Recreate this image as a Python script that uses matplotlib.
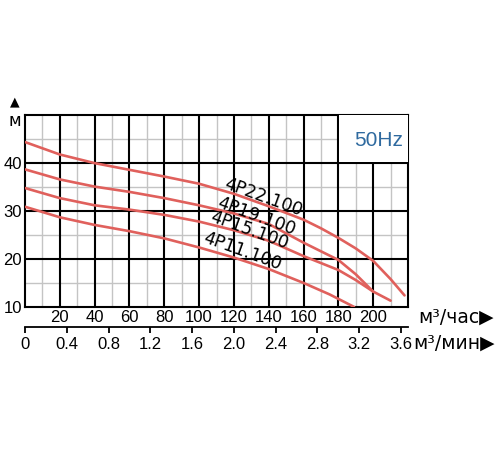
import matplotlib.pyplot as plt
from matplotlib.patches import Rectangle

# подача, м3/час и напор, м
q_22 = [0, 20, 40, 60, 80, 100, 120, 140, 160, 170, 180, 190, 200, 210, 218]
h_22 = [44.4, 41.8, 40.0, 38.6, 37.2, 35.7, 33.6, 31.0, 28.2, 26.4, 24.4, 22.2, 19.6, 15.8, 12.4]

q_19 = [0, 20, 40, 60, 80, 100, 120, 140, 160, 180, 190, 200, 210]
h_19 = [38.7, 36.6, 35.1, 34.0, 32.7, 31.2, 29.5, 27.3, 23.4, 19.8, 16.8, 13.2, 11.3]

q_15 = [0, 20, 40, 60, 80, 100, 120, 140, 160, 180, 190, 200]
h_15 = [34.8, 32.7, 31.2, 30.3, 29.2, 27.8, 26.0, 23.8, 20.6, 17.7, 15.6, 13.2]

q_11 = [0, 20, 40, 60, 80, 100, 120, 140, 160, 175, 189]
h_11 = [30.9, 28.7, 27.1, 25.8, 24.3, 22.4, 20.3, 17.9, 15.0, 12.6, 10.0]

names = ['4P22.100', '4P19.100', '4P15.100', '4P11.100']
label_pos = [(137, 32.8), (133, 28.9), (129, 25.9), (125, 21.7)]

x_ticks = [20, 40, 60, 80, 100, 120, 140, 160, 180, 200]
y_ticks = [10, 20, 30, 40]
min_ticks = [0, 0.4, 0.8, 1.2, 1.6, 2.0, 2.4, 2.8, 3.2, 3.6]

red = '#e0605c'
num_font = 'Liberation Sans'

fig = plt.figure(figsize=(5, 4.5), dpi=100)
ax = fig.add_axes([0.05, 0.318, 0.766, 0.426])
ax.set_xlim(0, 220)
ax.set_ylim(10, 50)

# сетка
for x in range(10, 220, 20):
    ax.axvline(x, color='#c4c4c4', lw=1.0, zorder=1)
for y in [15, 25, 35, 45]:
    ax.axhline(y, color='#c4c4c4', lw=1.0, zorder=1)
for x in range(20, 220, 20):
    ax.axvline(x, color='black', lw=1.5, zorder=2)
for y in [20, 30, 40]:
    ax.axhline(y, color='black', lw=1.5, zorder=2)

# окно 50Hz
ax.add_patch(Rectangle((180.6, 40.2), 40, 10, facecolor='white', edgecolor='none', zorder=3))
ax.text(203, 44.7, '50Hz', color='#2f6a9f', fontsize=15, family=num_font,
        ha='center', va='center', zorder=4)

for q, h in [(q_22, h_22), (q_19, h_19), (q_15, h_15), (q_11, h_11)]:
    ax.plot(q, h, color=red, lw=1.9, zorder=5, solid_capstyle='round')

for name, (x, y) in zip(names, label_pos):
    ax.text(x, y, name, fontsize=12.5, rotation=-20, ha='center', va='center',
            family='DejaVu Sans', color='black', zorder=6)

for s in ax.spines.values():
    s.set_linewidth(1.5)

ax.set_xticks(x_ticks)
ax.set_xticklabels([str(v) for v in x_ticks], family=num_font, fontsize=12)
ax.set_yticks(y_ticks)
ax.set_yticklabels([str(v) for v in y_ticks], family=num_font, fontsize=12)
ax.tick_params(length=0, pad=2)

# вторая шкала, м3/мин
sec = ax.secondary_xaxis(-0.105, functions=(lambda v: v / 60, lambda v: v * 60))
sec.set_xticks(min_ticks)
sec.set_xticklabels(['0'] + [f'{v:.1f}' for v in min_ticks[1:]], family=num_font, fontsize=12)
sec.tick_params(direction='out', length=4, width=1.3, pad=3)
sec.spines['bottom'].set_linewidth(1.3)

fig.text(0.03, 0.73, 'м', fontsize=12, ha='center', va='center')
fig.text(0.03, 0.773, '▲', fontsize=9, ha='center', va='center')
fig.text(0.836, 0.296, 'м³/час▶', fontsize=13.5, ha='left', va='center')
fig.text(0.826, 0.238, 'м³/мин▶', fontsize=13.5, ha='left', va='center')

fig.savefig('out.png', dpi=100)
